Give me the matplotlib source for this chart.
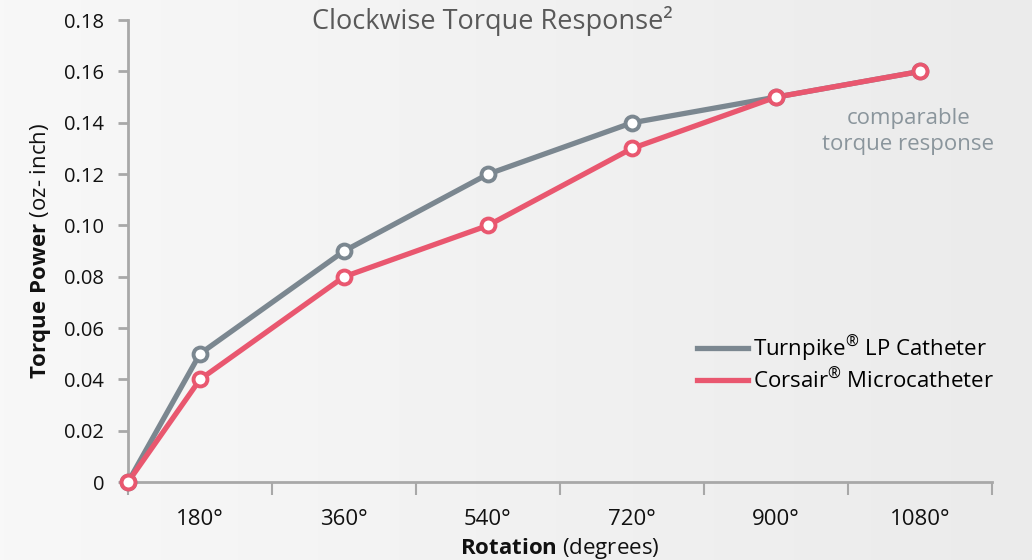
import numpy as np
import matplotlib.pyplot as plt

plt.rcParams['font.family'] = ['Open Sans', 'DejaVu Sans']
plt.rcParams['mathtext.fontset'] = 'custom'
plt.rcParams['mathtext.rm'] = 'Open Sans'
plt.rcParams['mathtext.bf'] = 'Open Sans:bold'

rotation = ['0°', '180°', '360°', '540°', '720°', '900°', '1080°']
turnpike = [0, 0.05, 0.09, 0.12, 0.14, 0.15, 0.16]
corsair = [0, 0.04, 0.08, 0.10, 0.13, 0.15, 0.16]
yticks = [0, 0.02, 0.04, 0.06, 0.08, 0.10, 0.12, 0.14, 0.16, 0.18]
ylabels = ['0', '0.02', '0.04', '0.06', '0.08', '0.10', '0.12', '0.14', '0.16', '0.18']

gray = '#7b8790'
red = '#e9576f'
axcol = '#a8a8a8'

# first point sits on the axis, the rest in the middle of each category
pos = [0] + [i - 0.5 for i in range(1, len(rotation))]

fig = plt.figure(figsize=(10.32, 5.6), dpi=100)

bg = fig.add_axes([0, 0, 1, 1], zorder=-1)
grad = np.linspace(0, 1, 256).reshape(1, -1)
bg.imshow(grad, aspect='auto', cmap=plt.matplotlib.colors.LinearSegmentedColormap.from_list('g', ['#f8f8f8', '#ebebeb']),
          extent=[0, 1, 0, 1])
bg.axis('off')

ax = fig.add_axes([0.124, 0.139, 0.837, 0.825])
ax.patch.set_alpha(0)

ax.plot(pos, corsair, '-', color=red, lw=3.8, zorder=3, label='Corsair$^{®}$ Microcatheter')
ax.plot(pos, turnpike, '-', color=gray, lw=3.8, zorder=2, label='Turnpike$^{®}$ LP Catheter')
ax.plot(pos, turnpike, 'o', color=gray, ms=10, mfc='white', mew=2.8, zorder=4, clip_on=False)
ax.plot(pos, corsair, 'o', color=red, ms=10, mfc='white', mew=2.8, zorder=5, clip_on=False)

ax.set_xlim(0, 6)
ax.set_ylim(0, 0.18)
ax.set_yticks(yticks)
ax.set_yticklabels(ylabels)
ax.set_xticks(range(7))
ax.set_xticklabels([])
ax.set_xticks(pos[1:], minor=True)
ax.set_xticklabels(rotation[1:], minor=True)

for s in ['top', 'right']:
    ax.spines[s].set_visible(False)
for s in ['left', 'bottom']:
    ax.spines[s].set_color(axcol)
    ax.spines[s].set_linewidth(2)
ax.tick_params(axis='y', colors=axcol, labelcolor='#111111', labelsize=14.5, width=2, length=7, pad=10)
ax.tick_params(axis='x', which='major', colors=axcol, width=1.5, length=9, direction='out')
ax.tick_params(axis='x', which='minor', length=0, labelsize=16, labelcolor='#111111', pad=19)

ax.set_xlabel(r'$\bf{Rotation}$ (degrees)', fontsize=16, color='#111111', labelpad=5)
ax.set_ylabel(r'$\bf{Torque\ Power}$ (oz- inch)', fontsize=16, color='#111111', labelpad=8)

fig.text(0.302, 0.962, 'Clockwise Torque Response²', fontsize=19.5, color='#595959', ha='left', va='center')
fig.text(0.880, 0.765, 'comparable\ntorque response', fontsize=16, color='#8a959c', ha='center', va='center',
         linespacing=1.35)

h, l = ax.get_legend_handles_labels()
leg = ax.legend(h[::-1], l[::-1], loc='lower right', bbox_to_anchor=(1.025, 0.15), frameon=False, fontsize=16,
                handlelength=2.3, handletextpad=0.2, labelspacing=0.25)

fig.savefig('out.png', dpi=100)
